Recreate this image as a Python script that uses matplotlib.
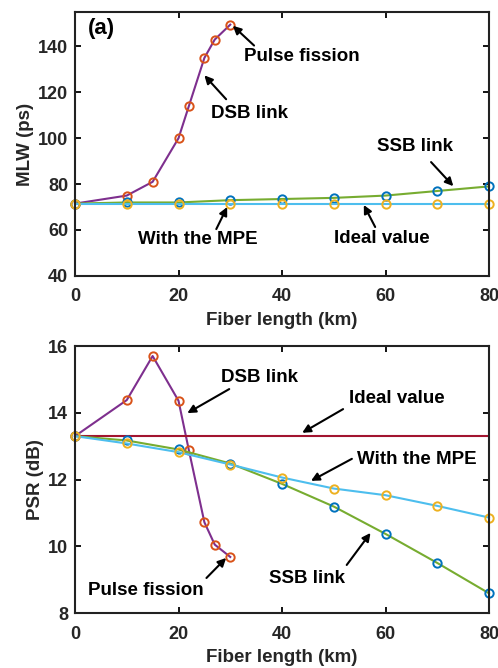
import matplotlib
matplotlib.use("Agg")
import matplotlib.pyplot as plt

plt.rcParams['font.family'] = ['Liberation Sans', 'DejaVu Sans']
plt.rcParams['font.weight'] = 'bold'
plt.rcParams['axes.labelweight'] = 'bold'

# ---- data ----
dsb_x = [0, 10, 15, 20, 22, 25, 27, 30]
ssb_x = [0, 10, 20, 30, 40, 50, 60, 70, 80]

mlw_dsb = [71.5, 75, 81, 100, 114, 135, 143, 149.5]
mlw_ssb = [71.5, 72, 72, 73, 73.5, 74, 75, 77, 79]
mlw_mpe = [71.5, 71.5, 71.5, 71.5, 71.5, 71.5, 71.5, 71.5, 71.5]

psr_dsb = [13.3, 14.38, 15.7, 14.36, 12.88, 10.72, 10.05, 9.68]
psr_ssb = [13.3, 13.17, 12.9, 12.48, 11.87, 11.19, 10.37, 9.5, 8.59]
psr_mpe = [13.3, 13.08, 12.82, 12.45, 12.06, 11.73, 11.53, 11.21, 10.86]
psr_ideal_x = [0, 80]
psr_ideal = [13.3, 13.3]

# MATLAB default colours
PURPLE = '#7E2F8E'
ORANGE = '#D95319'
BLUE = '#0072BD'
GREEN = '#77AC30'
LBLUE = '#4DBEEE'
YELLOW = '#EDB120'
CRIMSON = '#A2142F'

fig = plt.figure(figsize=(4.98, 6.68), dpi=100)
ax1 = fig.add_axes([0.1506, 0.587, 0.8314, 0.395])
ax2 = fig.add_axes([0.1506, 0.0823, 0.8314, 0.3997])

mk = dict(marker='o', markersize=6, markerfacecolor='none', markeredgewidth=1.4, clip_on=False)
lw = 1.5

def style(ax):
    ax.tick_params(direction='in', top=True, right=True, length=4, width=1.3, labelsize=13, pad=5)
    ax.tick_params(axis='x', pad=9)
    for lab in ax.get_xticklabels() + ax.get_yticklabels():
        lab.set_fontweight('bold')
        lab.set_color('#262626')
    for s in ax.spines.values():
        s.set_linewidth(1.5)
        s.set_color('#222222')

arrowp = dict(arrowstyle='-|>', color='black', lw=1.5, mutation_scale=12, shrinkA=0, shrinkB=0)
tfs = 13.5
lfs = 13.5

# ---- top panel ----
ax1.plot(dsb_x, mlw_dsb, color=PURPLE, lw=lw, markeredgecolor=ORANGE, **mk)
ax1.plot(ssb_x, mlw_ssb, color=GREEN, lw=lw, markeredgecolor=BLUE, **mk)
ax1.plot(ssb_x, mlw_mpe, color=LBLUE, lw=lw, markeredgecolor=YELLOW, **mk)
ax1.set_xlim(0, 80)
ax1.set_ylim(40, 155)
ax1.set_xticks([0, 20, 40, 60, 80])
ax1.set_yticks([40, 60, 80, 100, 120, 140])
ax1.set_xlabel('Fiber length (km)', fontsize=lfs, fontweight='bold', labelpad=5, color='#262626')
ax1.set_ylabel('MLW (ps)', fontsize=lfs, fontweight='bold', labelpad=3, color='#262626')
style(ax1)
ax1.text(2.5, 148, '(a)', fontsize=16, fontweight='bold', ha='left', va='center')

ax1.annotate('', xy=(30.5, 149), xytext=(34.6, 140.4), arrowprops=arrowp)
ax1.text(43.8, 135.6, 'Pulse fission', fontsize=tfs, fontweight='bold', ha='center', va='center')
ax1.annotate('', xy=(25, 127.4), xytext=(29.2, 117), arrowprops=arrowp)
ax1.text(33.7, 110.9, 'DSB link', fontsize=tfs, fontweight='bold', ha='center', va='center')
ax1.annotate('', xy=(73.1, 79.1), xytext=(68.8, 89.6), arrowprops=arrowp)
ax1.text(65.6, 96.2, 'SSB link', fontsize=tfs, fontweight='bold', ha='center', va='center')
ax1.annotate('', xy=(29.4, 70), xytext=(27.3, 60.4), arrowprops=arrowp)
ax1.text(23.7, 55.7, 'With the MPE', fontsize=tfs, fontweight='bold', ha='center', va='center')
ax1.annotate('', xy=(55.8, 70.9), xytext=(58, 61.3), arrowprops=arrowp)
ax1.text(59.3, 56.1, 'Ideal value', fontsize=tfs, fontweight='bold', ha='center', va='center')

# ---- bottom panel ----
ax2.plot(dsb_x, psr_dsb, color=PURPLE, lw=lw, markeredgecolor=ORANGE, **mk)
ax2.plot(psr_ideal_x, psr_ideal, color=CRIMSON, lw=lw)
ax2.plot(ssb_x, psr_ssb, color=GREEN, lw=lw, markeredgecolor=BLUE, **mk)
ax2.plot(ssb_x, psr_mpe, color=LBLUE, lw=lw, markeredgecolor=YELLOW, **mk)
ax2.set_xlim(0, 80)
ax2.set_ylim(8, 16)
ax2.set_xticks([0, 20, 40, 60, 80])
ax2.set_yticks([8, 10, 12, 14, 16])
ax2.set_xlabel('Fiber length (km)', fontsize=lfs, fontweight='bold', labelpad=5, color='#262626')
ax2.set_ylabel('PSR (dB)', fontsize=lfs, fontweight='bold', labelpad=3, color='#262626')
style(ax2)

ax2.annotate('', xy=(21.7, 13.99), xytext=(29.8, 14.71), arrowprops=arrowp)
ax2.text(35.6, 15.07, 'DSB link', fontsize=tfs, fontweight='bold', ha='center', va='center')
ax2.annotate('', xy=(43.9, 13.4), xytext=(51.8, 14.11), arrowprops=arrowp)
ax2.text(62.2, 14.44, 'Ideal value', fontsize=tfs, fontweight='bold', ha='center', va='center')
ax2.annotate('', xy=(45.6, 11.96), xytext=(53.5, 12.62), arrowprops=arrowp)
ax2.text(66, 12.59, 'With the MPE', fontsize=tfs, fontweight='bold', ha='center', va='center')
ax2.annotate('', xy=(57.1, 10.4), xytext=(52.5, 9.44), arrowprops=arrowp)
ax2.text(44.9, 9.02, 'SSB link', fontsize=tfs, fontweight='bold', ha='center', va='center')
ax2.annotate('', xy=(29.2, 9.65), xytext=(25.4, 9.05), arrowprops=arrowp)
ax2.text(13.75, 8.66, 'Pulse fission', fontsize=tfs, fontweight='bold', ha='center', va='center')

fig.savefig('out.png', dpi=100)
